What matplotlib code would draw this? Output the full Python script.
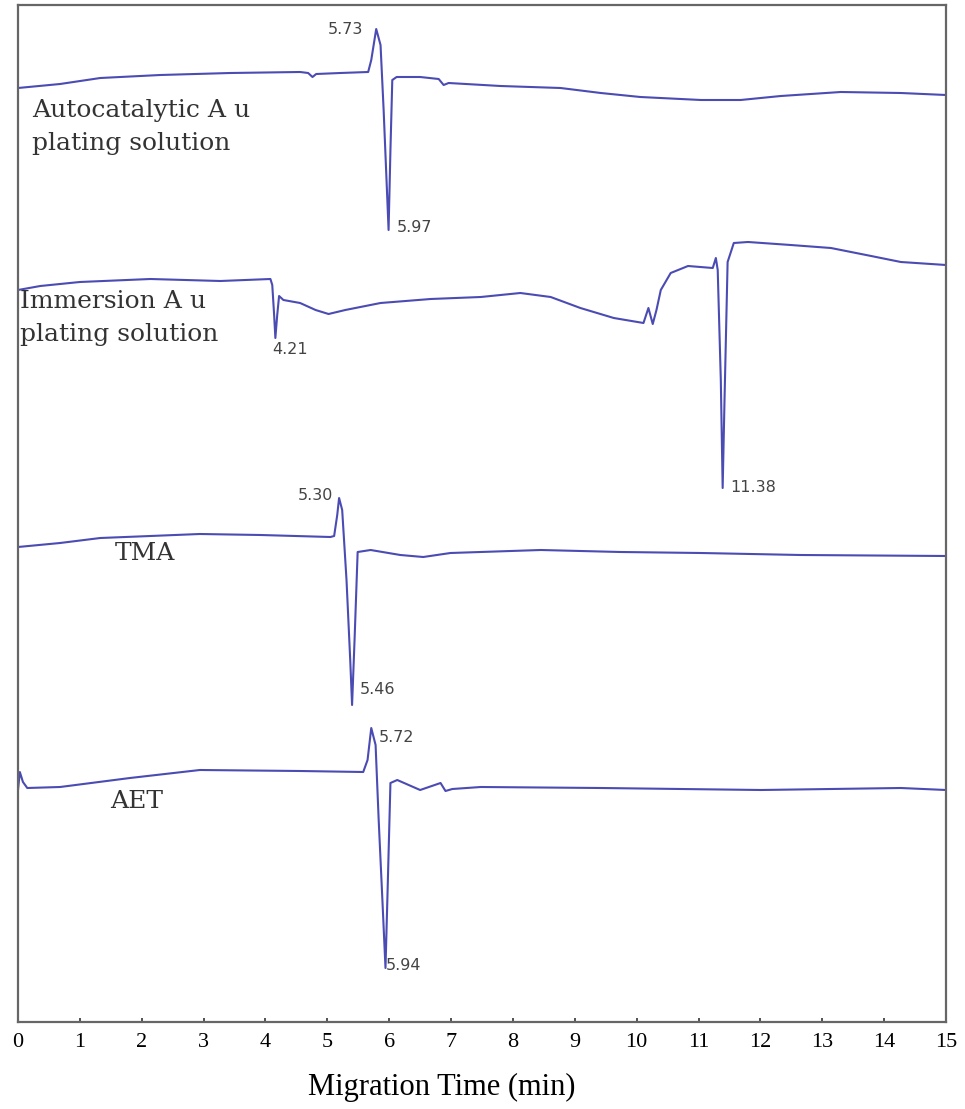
import matplotlib.pyplot as plt

# stacked electropherograms, signal in arbitrary units (offset per trace)
t_auto = [0.00, 0.68, 1.33, 2.30, 3.43, 4.56, 4.69, 4.76, 4.82, 5.21, 5.66, 5.71, 5.79,
          5.86, 5.91, 5.99, 6.02, 6.05, 6.12, 6.50, 6.80, 6.88, 6.96, 7.80, 8.77, 9.42,
          10.06, 11.04, 11.68, 12.33, 13.30, 14.27, 15.00]
s_auto = [934, 938, 944, 947, 949, 950, 949, 945, 948, 949, 950, 962, 993,
          977, 912, 792, 872, 942, 945, 945, 943, 937, 939, 936, 934, 929,
          925, 922, 922, 926, 930, 929, 927]

t_imm = [0.00, 0.36, 1.00, 2.14, 3.27, 4.08, 4.11, 4.14, 4.16, 4.19, 4.22, 4.29, 4.56,
         4.81, 5.02, 5.29, 5.86, 6.67, 7.48, 8.12, 8.61, 9.09, 9.63, 10.11, 10.19,
         10.26, 10.32, 10.39, 10.55, 10.83, 11.23, 11.28, 11.31, 11.36, 11.39, 11.42,
         11.47, 11.57, 11.80, 12.49, 13.14, 13.79, 14.27, 15.00]
s_imm = [732, 736, 740, 743, 741, 743, 737, 707, 684, 707, 726, 722, 719,
         712, 708, 712, 719, 723, 725, 729, 725, 714, 704, 699, 714,
         698, 712, 732, 749, 756, 754, 764, 752, 642, 534, 622,
         760, 779, 780, 777, 774, 766, 760, 757]

t_tma = [0.00, 0.68, 1.33, 2.14, 2.94, 3.92, 5.05, 5.11, 5.16, 5.19, 5.24, 5.31, 5.37,
         5.40, 5.44, 5.49, 5.70, 6.18, 6.55, 6.99, 8.45, 9.74, 11.04, 12.65, 15.00]
s_tma = [475, 479, 484, 486, 488, 487, 485, 486, 507, 524, 512, 442, 362,
         317, 382, 470, 472, 467, 465, 469, 472, 470, 469, 467, 466]

t_aet = [0.00, 0.03, 0.08, 0.15, 0.68, 1.81, 2.94, 4.56, 5.58, 5.65, 5.71, 5.78, 5.83,
         5.89, 5.94, 5.97, 6.02, 6.13, 6.50, 6.83, 6.91, 7.02, 7.48, 9.42, 12.01,
         14.27, 15.00]
s_aet = [232, 250, 240, 234, 235, 244, 252, 251, 250, 262, 294, 277, 202,
         122, 54, 122, 239, 242, 232, 239, 231, 233, 235, 234, 232,
         234, 232]

# peak labels: (text, x, y, ha)
peaks = [("5.73", 5.58, 992, "right"), ("5.97", 6.13, 795, "left"),
         ("4.21", 4.11, 672, "left"), ("11.38", 11.52, 534, "left"),
         ("5.30", 5.10, 527, "right"), ("5.46", 5.53, 332, "left"),
         ("5.72", 5.83, 284, "left"), ("5.94", 5.94, 57, "left")]

names = [("Autocatalytic A u\nplating solution", 0.23, 895),
         ("Immersion A u\nplating solution", 0.03, 704),
         ("TMA", 1.56, 469), ("AET", 1.49, 220)]

fig = plt.figure(figsize=(9.65, 11.09), dpi=100)
ax = fig.add_axes([18 / 965, 87 / 1109, 928 / 965, 1017 / 1109])

line_color = '#4b4bb4'
for t, s in [(t_auto, s_auto), (t_imm, s_imm), (t_tma, s_tma), (t_aet, s_aet)]:
    ax.plot(t, s, color=line_color, lw=1.5)

for txt, x, y, ha in peaks:
    ax.text(x, y, txt, ha=ha, va='center', fontsize=11.5, color='#444444',
            family='DejaVu Sans')

for txt, x, y in names:
    ax.text(x, y, txt, ha='left', va='center', fontsize=18, color='#333333',
            family='DejaVu Serif', linespacing=1.6)

ax.set_xlim(0, 15)
ax.set_ylim(0, 1017)
ax.set_xticks(range(16))
ax.set_yticks([])
ax.tick_params(axis='x', direction='in', length=3, width=1.2, pad=8,
               labelsize=16, colors='#333333')
for lab in ax.get_xticklabels():
    lab.set_family('Liberation Serif')
    lab.set_color('black')
for sp in ax.spines.values():
    sp.set_color('#666666')
    sp.set_linewidth(1.6)

fig.text(442 / 965, 1 - 1087 / 1109, 'Migration Time (min)', ha='center',
         va='center', fontsize=22, family='Liberation Serif')

fig.savefig('out.png', dpi=100)
